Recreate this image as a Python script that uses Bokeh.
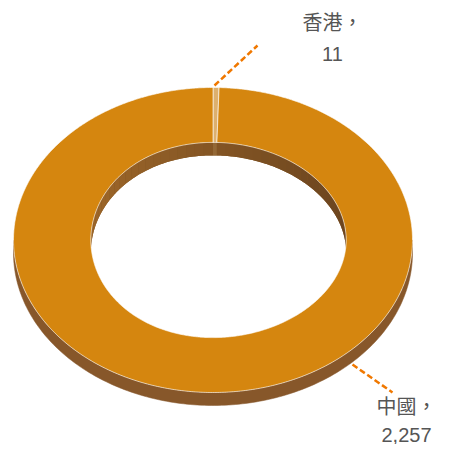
import numpy as np
from bokeh.plotting import figure
from bokeh.models import Range1d
from bokeh.embed import file_html
from bokeh.resources import INLINE
from bokeh.core.properties import value

# ---- data ----
categories = ["香港", "中國"]
values = [11, 2257]
value_labels = ["11", "2,257"]
colors = ["#DDB06E", "#D5860F"]
side_colors = ["#A98450", "#87572A"]

# ---- layout (pixel coordinates of the picture) ----
CX, CY = 212.5, 239.5
RX, RY = 199.5, 152.5
INNER = 0.64
INNER_DX = 5.5
DEPTH = 13
label_pos = {"香港": (332, 21, 53), "中國": (406, 405, 434)}
connectors = {"香港": ((214, 257), (85, 45)), "中國": ((352, 392), (364, 392))}

p = figure(width=438, height=444, x_range=Range1d(0, 438), y_range=Range1d(444, 0),
           output_backend="svg", toolbar_location=None, min_border=0)
p.axis.visible = False
p.grid.visible = False
p.outline_line_color = None
p.background_fill_color = "white"
p.border_fill_color = "white"


def pt(theta_deg, rx, ry, dy=0.0, dx=0.0):
    t = np.radians(theta_deg)
    return CX + dx * np.sin(t) ** 2 + rx * np.sin(t), CY - ry * np.cos(t) + dy


def hex2rgb(h):
    h = h.lstrip("#")
    return np.array([int(h[i:i + 2], 16) for i in (0, 2, 4)], dtype=float)


def rgb2hex(c):
    return "#%02x%02x%02x" % tuple(int(round(v)) for v in c)


total = float(sum(values))
bounds = np.concatenate([[0.0], np.cumsum(values) / total * 360.0])


def overlap(a0, a1, b0, b1):
    lo, hi = max(a0, b0), min(a1, b1)
    return (lo, hi) if hi > lo else None


def band(a, b, rx, ry, dx=0.0):
    ts = np.linspace(a, b, max(4, int(abs(b - a)) + 2))
    xt, yt = pt(ts, rx, ry, 0, dx)
    xb, yb = pt(ts[::-1], rx, ry, DEPTH, dx)
    return list(xt) + list(xb), list(yt) + list(yb)


# ---- outer side (front half: 90..270 deg), one piece per slice ----
sx, sy, sc = [], [], []
for i in range(len(values)):
    ov = overlap(bounds[i], bounds[i + 1], 90, 270)
    if ov:
        x, y = band(ov[0], ov[1], RX, RY)
        sx.append(x); sy.append(y); sc.append(side_colors[i])
p.patches(sx, sy, fill_color=sc, line_color=sc, line_width=0.5)

# ---- inner wall (back half), base + shaded segments ----
left_c, right_c = hex2rgb("#9C6629"), hex2rgb("#6C451F")
bx, by = band(-90, 90, RX * INNER, RY * INNER, INNER_DX)
p.patch(bx, by, fill_color=rgb2hex((left_c + right_c) / 2), line_color=None)
wx, wy, wc = [], [], []
for i in range(len(values)):
    for rng in ((270, 360), (0, 90)):
        ov = overlap(bounds[i], bounds[i + 1], *rng)
        if not ov:
            continue
        edges = np.linspace(ov[0], ov[1], max(2, int((ov[1] - ov[0]) / 4) + 1))
        for a, b in zip(edges[:-1], edges[1:]):
            x, y = band(a, b, RX * INNER, RY * INNER, INNER_DX)
            wx.append(x); wy.append(y)
            f = (np.sin(np.radians((a + b) / 2)) + 1) / 2
            c = left_c * (1 - f) + right_c * f
            if i == 0:
                c = c * 0.6 + hex2rgb(side_colors[0]) * 0.4
            wc.append(rgb2hex(c))
p.patches(wx, wy, fill_color=wc, line_color=None)

# ---- top face slices ----
tx, ty = [], []
for i in range(len(values)):
    ts = np.linspace(bounds[i], bounds[i + 1], max(3, int(bounds[i + 1] - bounds[i]) * 2 + 2))
    xo, yo = pt(ts, RX, RY)
    xi, yi = pt(ts[::-1], RX * INNER, RY * INNER, 0, INNER_DX)
    tx.append(list(xo) + list(xi))
    ty.append(list(yo) + list(yi))
p.patches(tx, ty, fill_color=colors, line_color="white", line_width=1, line_alpha=0.6)

# ---- connectors & labels ----
for i, cat in enumerate(categories):
    (x0, x1), (y0, y1) = connectors[cat]
    p.line([x0, x1], [y0, y1], line_color="#F07800", line_width=2.5, line_dash="6 3")
    lx, ly1, ly2 = label_pos[cat]
    p.text([lx], [ly1], text=[cat + "，"], text_font=value("Noto Sans CJK TC"),
           text_font_size="20px", text_color="#555555",
           text_align="center", text_baseline="middle")
    p.text([lx], [ly2], text=[value_labels[i]], text_font=value("Liberation Sans"),
           text_font_size="20px", text_color="#555555",
           text_align="center", text_baseline="middle")

open("out.html", "w").write(file_html(p, INLINE))
